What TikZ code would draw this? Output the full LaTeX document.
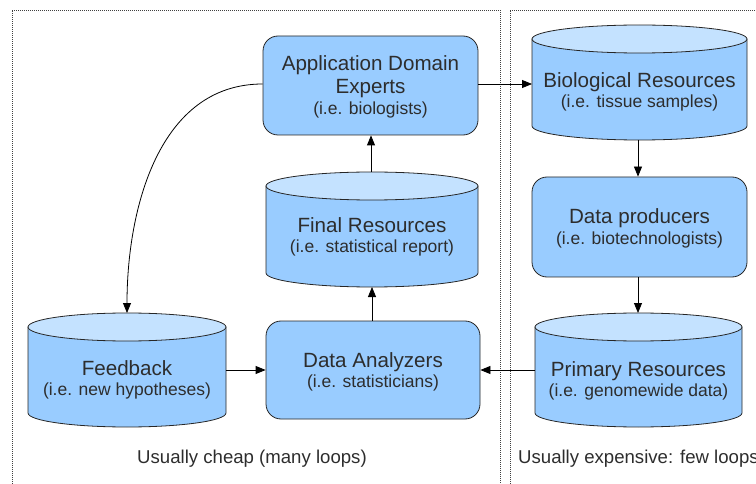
\documentclass[tikz,border=0pt]{standalone}
\usepackage{fontspec}
\setmainfont{Liberation Sans}
\usetikzlibrary{arrows.meta}

\definecolor{boxblue}{RGB}{153,204,255}
\definecolor{capblue}{RGB}{196,226,255}
\definecolor{txt}{RGB}{45,45,45}

\tikzset{
  region/.style={draw=black!75, line width=0.6pt, dash pattern=on 1pt off 1pt},
  procbox/.style={draw=black!85, fill=boxblue, line width=0.8pt, rounded corners=15pt, inner sep=0pt},
  anchorbox/.style={inner sep=0pt, outer sep=0pt},
  title/.style={anchor=base, text=txt, inner sep=0pt, font=\fontsize{20.6}{24}\selectfont},
  subtitle/.style={anchor=base, text=txt, inner sep=0pt, font=\fontsize{17.5}{21}\selectfont},
  note/.style={anchor=base, text=txt, inner sep=0pt, font=\fontsize{18.6}{22}\selectfont},
  flow/.style={draw=black, line width=0.8pt, -{Triangle[length=10pt,width=8pt]}},
  cylbody/.style={draw=black!85, fill=boxblue, line width=0.8pt},
  cylcap/.style={draw=black!85, fill=capblue, line width=0.8pt}
}

% database cylinder: name, left, right, top, bottom (y measured downward)
\newcommand\dbcylinder[5]{%
  \pgfmathsetmacro\cylcx{(#2+#3)/2}%
  \pgfmathsetmacro\cylrx{(#3-#2)/2}%
  \pgfmathsetmacro\cyltop{-(#4)-14}%
  \pgfmathsetmacro\cylbot{-(#5)+14}%
  \path[cylbody] (#2,\cyltop) -- (#2,\cylbot)
    arc[start angle=180, end angle=360, x radius=\cylrx, y radius=14]
    -- (#3,\cyltop) -- cycle;
  \path[cylcap] (\cylcx,\cyltop) ellipse[x radius=\cylrx, y radius=14];
  \node[anchorbox, minimum width=#3-#2, minimum height=#5-#4] (#1) at (\cylcx,{-(#4+#5)/2}) {};
}

\begin{document}
\begin{tikzpicture}[x=1pt, y=1pt]
  \useasboundingbox (0,0) rectangle (756,-484);

  % the two cost regions
  \draw[region] (12,-500) -- (12,-10) -- (500,-10) -- (500,-500);
  \draw[region] (510,-500) -- (510,-10) -- (780,-10);

  % processing steps
  \node[procbox, minimum width=215, minimum height=99] (ade) at (370.5,-85.5) {};
  \node[procbox, minimum width=215, minimum height=100] (dp) at (639.5,-227) {};
  \node[procbox, minimum width=214, minimum height=98] (da) at (373,-370) {};

  % resources
  \dbcylinder{bio}{532}{747}{25}{140}
  \dbcylinder{pr}{535}{742}{313}{427}
  \dbcylinder{fr}{266}{478}{172}{287}
  \dbcylinder{fb}{28}{226}{313}{427}

  % labels
  \node[title] (ade-t1) at (370.5,-71) {Application Domain};
  \node[title] (ade-t2) at (370.5,-94) {Experts};
  \node[subtitle] (ade-s) at (370.5,-115) {(i.e. biologists)};

  \node[title] (bio-t) at (639.5,-88) {Biological Resources};
  \node[subtitle] (bio-s) at (639.5,-108) {(i.e. tissue samples)};

  \node[title] (dp-t) at (639.5,-224) {Data producers};
  \node[subtitle] (dp-s) at (639.5,-244) {(i.e. biotechnologists)};

  \node[title] (pr-t) at (638.5,-376) {Primary Resources};
  \node[subtitle] (pr-s) at (638.5,-396) {(i.e. genomewide data)};

  \node[title] (da-t) at (373,-367) {Data Analyzers};
  \node[subtitle] (da-s) at (373,-387) {(i.e. statisticians)};

  \node[title] (fr-t) at (372,-233) {Final Resources};
  \node[subtitle] (fr-s) at (372,-253) {(i.e. statistical report)};

  \node[title] (fb-t) at (127,-375) {Feedback};
  \node[subtitle] (fb-s) at (127,-395) {(i.e. new hypotheses)};

  \node[note] (cheap) at (252,-463) {Usually cheap (many loops)};
  \node[note, anchor=base west] (costly) at (518,-463) {Usually expensive: few loops};

  % data flow
  \draw[flow] (ade.east |- 0,-84) -- (bio.west |- 0,-84);
  \draw[flow] (bio.south -| 638,0) -- (dp.north -| 638,0);
  \draw[flow] (dp.south -| 638,0) -- (pr.north -| 638,0);
  \draw[flow] (pr.west) -- (da.east);
  \draw[flow] (fb.east) -- (da.west);
  \draw[flow] (da.north -| 372,0) -- (fr.south -| 372,0);
  \draw[flow] (fr.north -| 371,0) -- (ade.south -| 371,0);
  \draw[flow] (ade.west |- 0,-84) to[out=180, in=90] (fb.north);
\end{tikzpicture}
\end{document}
